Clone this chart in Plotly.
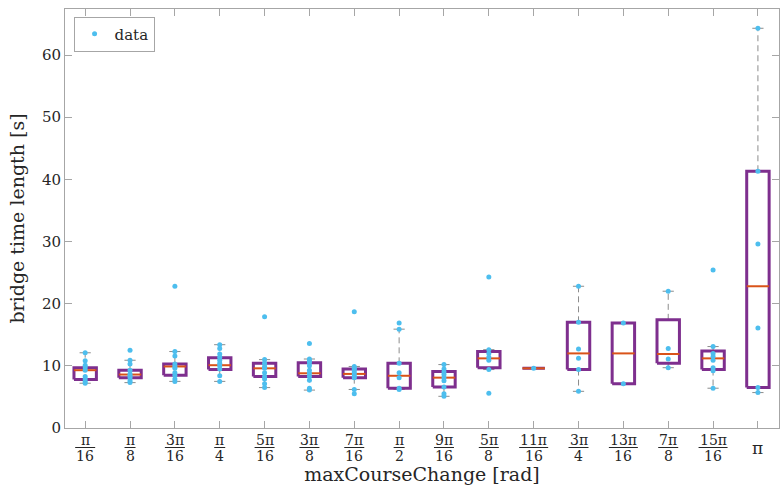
import plotly.graph_objects as go

# ---------------- data ----------------
tick_num = ["π", "π", "3π", "π", "5π", "3π", "7π", "π", "9π", "5π", "11π", "3π", "13π", "7π", "15π", "π"]
tick_den = ["16", "8", "16", "4", "16", "8", "16", "2", "16", "8", "16", "4", "16", "8", "16", ""]

points = [
    [12.1, 10.8, 10.1, 9.7, 9.3, 8.3, 7.9, 7.5, 7.2],
    [12.5, 10.9, 10.3, 9.3, 8.7, 8.4, 8.1, 7.6, 7.3],
    [22.8, 12.3, 11.6, 10.3, 9.9, 9.6, 8.9, 8.5, 7.9, 7.5],
    [13.4, 12.8, 11.9, 11.4, 10.9, 10.4, 10.0, 9.5, 8.4, 7.5],
    [17.9, 11.0, 10.4, 9.9, 9.6, 8.9, 8.3, 7.9, 7.1, 6.5],
    [13.6, 11.1, 10.8, 10.5, 10.0, 9.3, 8.8, 8.3, 7.7, 6.4, 6.1],
    [18.7, 9.9, 9.6, 9.4, 9.0, 8.7, 8.3, 8.1, 6.2, 5.5],
    [16.9, 15.9, 10.4, 8.9, 8.1, 6.4, 6.2],
    [10.2, 9.5, 9.0, 8.6, 8.1, 7.6, 6.6, 5.5, 5.1],
    [24.3, 12.6, 12.0, 11.4, 10.9, 9.4, 5.6],
    [9.6],
    [22.8, 17.0, 12.7, 11.2, 9.4, 5.9],
    [16.9, 7.1],
    [22.0, 12.8, 11.1, 9.7],
    [25.4, 13.1, 12.0, 11.5, 10.9, 9.7, 9.2, 6.4],
    [64.3, 41.3, 29.6, 16.1, 6.5, 5.7],
]

q1 = [7.8, 8.1, 8.5, 9.4, 8.3, 8.3, 8.1, 6.4, 6.6, 9.7, 9.6, 9.4, 7.1, 10.4, 9.4, 6.5]
median = [9.3, 8.6, 9.9, 10.1, 9.6, 8.8, 8.7, 8.4, 8.1, 11.2, 9.6, 12.0, 12.0, 11.9, 11.2, 22.8]
q3 = [9.7, 9.3, 10.3, 11.3, 10.4, 10.5, 9.5, 10.4, 9.1, 12.3, 9.6, 17.0, 16.9, 17.4, 12.4, 41.3]
whisker_lo = [7.2, 7.3, 7.5, 7.5, 6.5, 6.1, 6.2, 6.2, 5.1, 9.4, 9.6, 5.9, 7.1, 9.7, 6.4, 5.7]
whisker_hi = [12.1, 10.9, 12.3, 13.4, 11.0, 11.1, 9.9, 15.9, 10.2, 12.6, 9.6, 22.8, 16.9, 22.0, 13.1, 64.3]

# ---------------- styling ----------------
BOX_W = 0.25      # half box width (category units)
CAP_W = 0.125     # half cap width
PURPLE = "#7E2F8E"
ORANGE = "#D95319"
BLUE = "#4DBEEE"
WHISK = "#8c8c8c"
AXC = "#a6a6a6"
TXT = "#262626"
FONT = "DejaVu Serif"
XR = [0.55, 16.47]
YR = [0, 67.4]

n = len(q1)
cats = list(range(1, n + 1))

wx, wy = [], []
cx, cy = [], []
bx, by = [], []
mx, my = [], []
for i, c in enumerate(cats):
    if whisker_hi[i] > q3[i]:
        wx += [c, c, None]; wy += [q3[i], whisker_hi[i], None]
    if whisker_lo[i] < q1[i]:
        wx += [c, c, None]; wy += [q1[i], whisker_lo[i], None]
    cx += [c - CAP_W, c + CAP_W, None, c - CAP_W, c + CAP_W, None]
    cy += [whisker_hi[i], whisker_hi[i], None, whisker_lo[i], whisker_lo[i], None]
    bx += [c - BOX_W, c + BOX_W, c + BOX_W, c - BOX_W, c - BOX_W, None]
    by += [q1[i], q1[i], q3[i], q3[i], q1[i], None]
    mx += [c - BOX_W, c + BOX_W, None]
    my += [median[i], median[i], None]

px, py = [], []
for c, vals in zip(cats, points):
    px += [c] * len(vals)
    py += vals

fig = go.Figure()
fig.add_trace(go.Scatter(x=wx, y=wy, mode="lines", line=dict(color=WHISK, width=1, dash="6px,4px"),
                         showlegend=False, hoverinfo="skip"))
fig.add_trace(go.Scatter(x=cx, y=cy, mode="lines", line=dict(color=WHISK, width=1),
                         showlegend=False, hoverinfo="skip"))
fig.add_trace(go.Scatter(x=bx, y=by, mode="lines", line=dict(color=PURPLE, width=3),
                         showlegend=False, hoverinfo="skip"))
fig.add_trace(go.Scatter(x=mx, y=my, mode="lines", line=dict(color=ORANGE, width=2),
                         showlegend=False, hoverinfo="skip"))
fig.add_trace(go.Scatter(x=px, y=py, mode="markers", name="data",
                         marker=dict(color=BLUE, size=5, line=dict(width=0))))

# fraction tick labels
annotations = []
shapes = []
plot_w_px = 714.0
plot_h_px = 419.0
for c, num, den in zip(cats, tick_num, tick_den):
    if den:
        annotations.append(dict(x=c, y=0, xref="x", yref="paper", text=num, showarrow=False,
                                yshift=-12, yanchor="middle", xanchor="center",
                                font=dict(family=FONT, size=14, color=TXT)))
        annotations.append(dict(x=c, y=0, xref="x", yref="paper", text=den, showarrow=False,
                                yshift=-28, yanchor="middle", xanchor="center",
                                font=dict(family=FONT, size=14, color=TXT)))
        half_px = (max(len(num), len(den)) * 9.0 + 2) / 2.0
        xc = (c - XR[0]) / (XR[1] - XR[0])
        dx = half_px / plot_w_px
        yb = -19.5 / plot_h_px
        shapes.append(dict(type="line", xref="paper", yref="paper",
                           x0=xc - dx, x1=xc + dx, y0=yb, y1=yb,
                           line=dict(color=TXT, width=1)))
    else:
        annotations.append(dict(x=c, y=0, xref="x", yref="paper", text=num, showarrow=False,
                                yshift=-20, yanchor="middle", xanchor="center",
                                font=dict(family=FONT, size=17, color=TXT)))

fig.update_layout(
    width=780, height=485,
    margin=dict(l=65, r=1, t=9, b=57),
    plot_bgcolor="white", paper_bgcolor="white",
    font=dict(family=FONT, color=TXT),
    annotations=annotations, shapes=shapes,
    legend=dict(x=0.012, y=0.982, xanchor="left", yanchor="top",
                bordercolor=AXC, borderwidth=1, bgcolor="white",
                font=dict(family=FONT, size=15, color=TXT),
                itemwidth=30, tracegroupgap=0),
    xaxis=dict(range=XR, tickvals=cats, showticklabels=False,
               ticks="inside", ticklen=7, tickcolor=AXC, showline=True, linecolor=AXC,
               linewidth=1, mirror="ticks", showgrid=False, zeroline=False,
               title=dict(text="maxCourseChange [rad]", standoff=42,
                          font=dict(family=FONT, size=19, color=TXT))),
    yaxis=dict(range=YR, tickvals=[0, 10, 20, 30, 40, 50, 60],
               ticks="inside", ticklen=7, tickcolor=AXC, showline=True, linecolor=AXC,
               linewidth=1, mirror="ticks", showgrid=False, zeroline=False,
               tickfont=dict(family=FONT, size=15, color=TXT),
               title=dict(text="bridge time length [s]", standoff=12,
                          font=dict(family=FONT, size=19, color=TXT))),
)

fig.write_html("out.html")
